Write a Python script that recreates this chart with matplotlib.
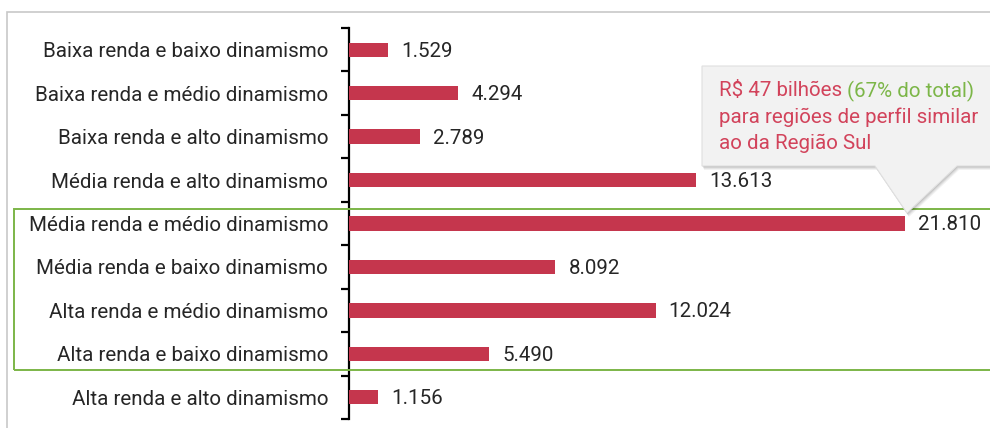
import matplotlib
matplotlib.use("Agg")
import matplotlib.pyplot as plt
from matplotlib.patches import Rectangle, Polygon
import numpy as np

categories = [
    "Baixa renda e baixo dinamismo",
    "Baixa renda e médio dinamismo",
    "Baixa renda e alto dinamismo",
    "Média renda e alto dinamismo",
    "Média renda e médio dinamismo",
    "Média renda e baixo dinamismo",
    "Alta renda e médio dinamismo",
    "Alta renda e baixo dinamismo",
    "Alta renda e alto dinamismo",
]
values = [1529, 4294, 2789, 13613, 21810, 8092, 12024, 5490, 1156]
value_labels = ["1.529", "4.294", "2.789", "13.613", "21.810", "8.092", "12.024", "5.490", "1.156"]

BAR = "#c5364d"
RED_TXT = "#d2435b"
GREEN = "#7cb648"
FONT = "Roboto"
FS = 14.8

W, H = 990, 428
fig = plt.figure(figsize=(W / 100, H / 100), dpi=100)

def fx(px):
    return px / W

def fy(py):
    return 1 - py / H

ax_left, ax_right = 349, 985
ax = fig.add_axes([fx(ax_left), fy(419), fx(ax_right - ax_left), (419 - 28) / H])
scale_px = 905 - 349
xmax = max(values) * (ax_right - ax_left) / scale_px
ax.set_xlim(0, xmax)
n = len(categories)
ax.set_ylim(n - 0.5, -0.5)

y = np.arange(n)
ax.barh(y, values, height=0.33, color=BAR, zorder=3)

for yi, v, lab in zip(y, values, value_labels):
    ax.annotate(lab, (v, yi), xytext=(9.5, -1), textcoords="offset points",
                ha="left", va="center", fontsize=FS, family=FONT, color="#262626")

for s in ["top", "right", "bottom"]:
    ax.spines[s].set_visible(False)
ax.spines["left"].set_linewidth(1.6)
ax.spines["left"].set_color("black")
ax.set_xticks([])
ax.set_yticks(np.arange(-0.5, n, 1.0))
ax.set_yticklabels([])
ax.tick_params(axis="y", which="major", direction="out", length=6, width=1.6, color="black")
ax.set_yticks(y, minor=True)
ax.set_yticklabels(categories, minor=True, fontsize=FS, family=FONT, color="#262626")
ax.tick_params(axis="y", which="minor", length=0, pad=15)
ax.patch.set_visible(False)

fig.patches.append(Rectangle((fx(7), fy(440)), fx(1000), (440 - 12) / H,
                             transform=fig.transFigure, fill=False,
                             edgecolor="#c8c8c8", linewidth=1.2, zorder=0))

fig.patches.append(Rectangle((fx(14), fy(370)), fx(1000), (370 - 209) / H,
                             transform=fig.transFigure, fill=False,
                             edgecolor=GREEN, linewidth=1.4, zorder=5))

bx0, bx1, by0, by1 = 702, 1000, 66, 166
tip = (907, 213)
b1, b2 = 875, 957
def callout_pts(dx=0, dy=0):
    pts = [(bx0, by0), (bx1, by0), (bx1, by1), (b2, by1), tip, (b1, by1), (bx0, by1)]
    return [(fx(px + dx), fy(py + dy)) for px, py in pts]
for k, a in [(4, 0.05), (3, 0.06), (2, 0.08), (1, 0.10)]:
    fig.patches.append(Polygon(callout_pts(k * 0.5, k), closed=True, transform=fig.transFigure,
                               facecolor="black", edgecolor="none", alpha=a, zorder=6))
fig.patches.append(Polygon(callout_pts(), closed=True, transform=fig.transFigure,
                           facecolor="#f2f2f2", edgecolor="#e0e0e0", linewidth=0.8, zorder=7))

t1 = fig.text(fx(719), fy(91), "R$ 47 bilhões ", fontsize=FS, family=FONT, color=RED_TXT,
              ha="left", va="center", zorder=8)
fig.canvas.draw()
bb = t1.get_window_extent()
fig.text(bb.x1 / W, fy(91), "(67% do total)", fontsize=FS, family=FONT, color=GREEN,
         ha="left", va="center", zorder=8)
fig.text(fx(719), fy(117), "para regiões de perfil similar", fontsize=FS, family=FONT,
         color=RED_TXT, ha="left", va="center", zorder=8)
fig.text(fx(719), fy(143), "ao da Região Sul", fontsize=FS, family=FONT,
         color=RED_TXT, ha="left", va="center", zorder=8)

fig.savefig("out.png", dpi=100)
